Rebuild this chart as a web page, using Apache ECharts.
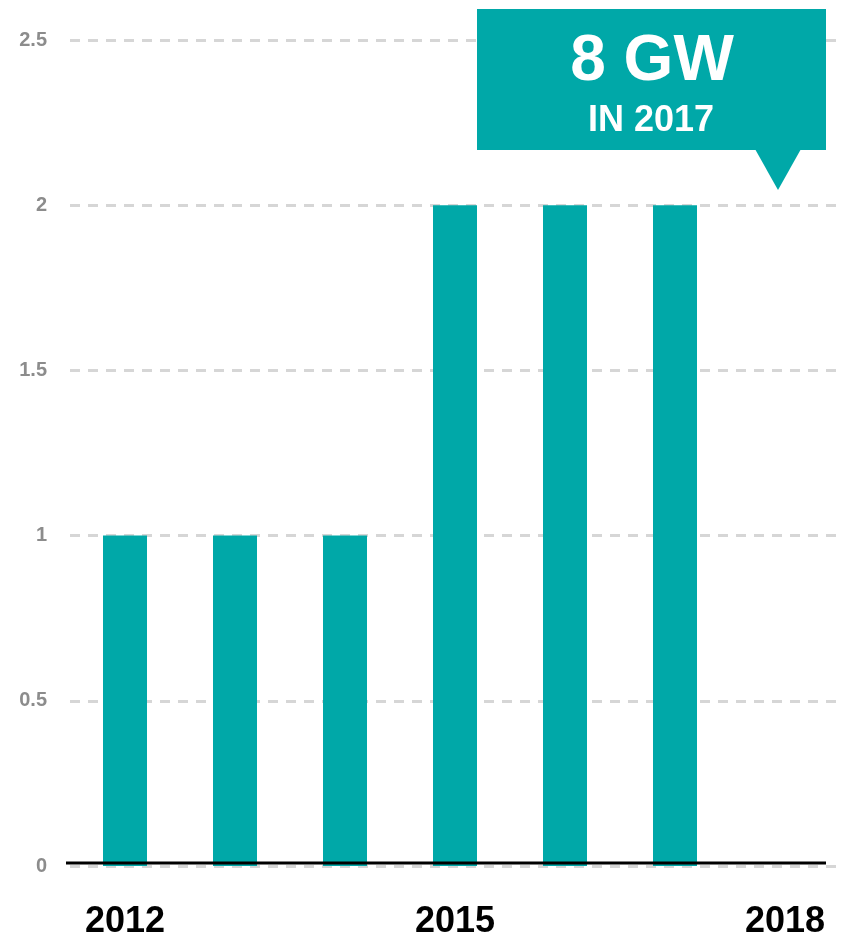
<!DOCTYPE html>
<html>
<head>
<meta charset="utf-8">
<script src="https://cdn.jsdelivr.net/npm/echarts@6/dist/echarts.min.js"></script>
<style>
  html, body { margin: 0; padding: 0; background: #fff; }
  #chart { width: 841px; height: 941px; }
</style>
</head>
<body>
<div id="chart"></div>
<script>
// Annual capacity additions (GW)
const years = ['2012', '2013', '2014', '2015', '2016', '2017', '2018'];
const capacity = [1, 1, 1, 2, 2, 2, 0];
const yTicks = [0, 0.5, 1, 1.5, 2, 2.5];
const calloutValue = '8 GW';
const calloutCaption = 'IN 2017';

const teal = '#00a8a8';
const chart = echarts.init(document.getElementById('chart'));

chart.setOption({
  animation: false,
  backgroundColor: '#ffffff',
  grid: { left: 70, right: 1, top: 40, bottom: 75, containLabel: false },
  xAxis: {
    type: 'category',
    data: years,
    axisLine: { show: false },
    axisTick: { show: false },
    axisLabel: {
      interval: 2,
      margin: 38,
      color: '#000',
      fontFamily: 'Liberation Sans, Arial, sans-serif',
      fontWeight: 'bold',
      fontSize: 36
    }
  },
  yAxis: {
    type: 'value',
    min: yTicks[0],
    max: yTicks[yTicks.length - 1],
    interval: yTicks[1] - yTicks[0],
    axisLine: { show: false },
    axisTick: { show: false },
    axisLabel: {
      margin: 23,
      color: '#8c8c8c',
      fontFamily: 'Liberation Sans, Arial, sans-serif',
      fontWeight: 'bold',
      fontSize: 20,
      formatter: v => String(v)
    },
    splitLine: {
      show: true,
      lineStyle: { color: '#d6d6d6', width: 3, type: [10, 8] }
    }
  },
  series: [{
    type: 'bar',
    data: capacity,
    barWidth: 44,
    itemStyle: { color: teal },
    z: 2
  }],
  graphic: [
    // baseline drawn over the bar feet
    {
      type: 'line',
      z: 100,
      shape: { x1: 66, y1: 863, x2: 826, y2: 863 },
      style: { stroke: '#000', lineWidth: 3 }
    },
    // callout box with pointer
    {
      type: 'rect',
      z: 100,
      shape: { x: 477, y: 9, width: 349, height: 141 },
      style: { fill: teal }
    },
    {
      type: 'polygon',
      z: 100,
      shape: { points: [[755, 149], [801, 149], [778, 190]] },
      style: { fill: teal }
    },
    {
      type: 'text',
      z: 101,
      x: 652, y: 62,
      style: {
        text: calloutValue,
        fill: '#fff',
        font: 'bold 64px "Liberation Sans", Arial, sans-serif',
        textAlign: 'center',
        textVerticalAlign: 'middle'
      }
    },
    {
      type: 'text',
      z: 101,
      x: 651, y: 121,
      style: {
        text: calloutCaption,
        fill: '#fff',
        font: 'bold 36px "Liberation Sans", Arial, sans-serif',
        textAlign: 'center',
        textVerticalAlign: 'middle'
      }
    }
  ]
});
</script>
</body>
</html>
